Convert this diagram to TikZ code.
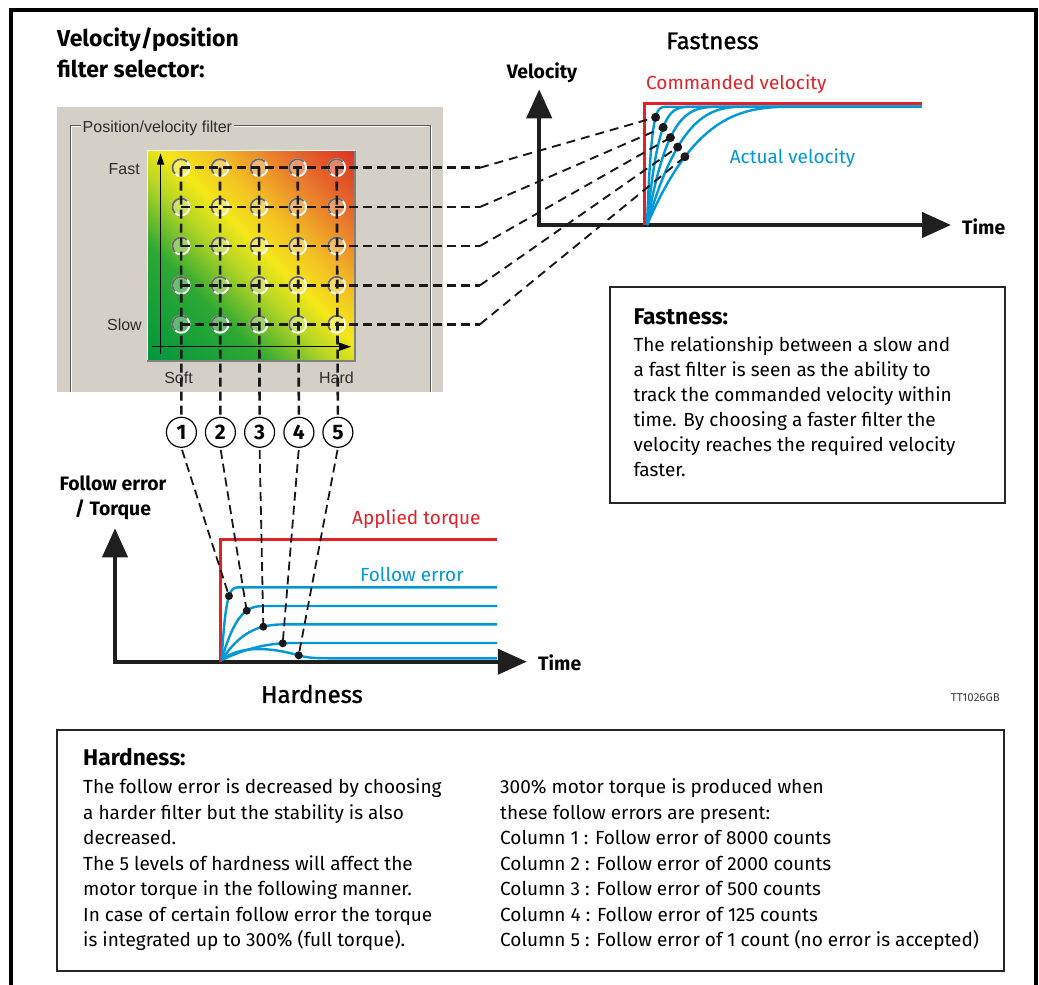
\documentclass[tikz,border=0pt]{standalone}
\usepackage{fontspec}
\setmainfont{Fira Sans}
\newfontfamily\winfont{Liberation Sans}
\newfontfamily\medfont{Fira Sans}[FakeBold=1.2]
\usetikzlibrary{arrows.meta}
\definecolor{cred}{RGB}{226,32,38}
\definecolor{cblue}{RGB}{0,152,216}
\definecolor{panelgray}{RGB}{212,208,200}
\definecolor{wintext}{RGB}{45,45,45}
\definecolor{ringgray}{RGB}{105,105,105}
\pgfdeclarehorizontalshading{filtergrad}{100bp}{%
 rgb(0bp)=(0,0.59,0.24);
 rgb(14.6bp)=(0,0.59,0.24);
 rgb(34.4bp)=(0.18,0.66,0.20);
 rgb(45.8bp)=(0.72,0.84,0.14);
 rgb(52.8bp)=(0.96,0.91,0.10);
 rgb(61.3bp)=(0.95,0.74,0.14);
 rgb(72.7bp)=(0.91,0.45,0.18);
 rgb(85.4bp)=(0.85,0.20,0.14);
 rgb(100bp)=(0.85,0.20,0.14)}
\begin{document}
\begin{tikzpicture}[x=1pt,y=-1pt,
  axisline/.style={line width=4.2pt,draw=black!88,line cap=rect},
  bigtip/.style={-{Triangle[length=29pt,width=25pt]}},
  redline/.style={line width=3.4pt,draw=cred},
  blueline/.style={line width=2.4pt,draw=cblue},
  griddash/.style={line width=2.6pt,dash pattern=on 9pt off 5pt,draw=black!90},
  slantdash/.style={line width=1.9pt,dash pattern=on 9pt off 6pt,draw=black!90},
  lowdash/.style={line width=1.8pt,dash pattern=on 9pt off 5pt,draw=black!90},
  bdot/.style={circle,fill=black!90,inner sep=0pt,minimum size=9pt},
  numcirc/.style={circle,draw,line width=1.2pt,minimum size=30pt,inner sep=0pt,font=\fontsize{21}{21}\selectfont\bfseries},
  wlabel/.style={font=\winfont\fontsize{16}{16}\selectfont,text=wintext,inner sep=0pt},
  boxbody/.style={font=\fontsize{19}{24}\selectfont,anchor=base west,inner sep=0pt},
  boxtitle/.style={font=\fontsize{22.7}{26}\selectfont\bfseries,anchor=base west,inner sep=0pt},
  axlabel/.style={font=\fontsize{19.4}{22}\selectfont\bfseries,inner sep=0pt},
  graphtitle/.style={font=\medfont\fontsize{24}{28}\selectfont,inner sep=0pt},
  curvelabel/.style={font=\fontsize{19}{22}\selectfont,inner sep=0pt,anchor=west},
  framebox/.style={line width=2pt,draw=black!85}
]
\useasboundingbox (0,0) rectangle (1039,985);
\fill[white] (0,0) rectangle (1039,985);
% outer frame
\draw[line width=4pt] (10.5,990) -- (10.5,9.5) -- (1036,9.5) -- (1036,990);

% title top left
\node[font=\fontsize{23}{23}\selectfont\bfseries,anchor=base west,inner sep=0pt] (sel1) at (57,46) {Velocity/position};
\node[font=\fontsize{23}{23}\selectfont\bfseries,anchor=base west,inner sep=0pt] (sel2) at (57,77.5) {filter selector:};

% ---------- panel ----------
\fill[panelgray] (56.7,106.7) rectangle (443.3,391.7);
\draw[gray!70!black,line width=1pt] (70.7,391.7) -- (70.7,125.7) -- (430,125.7) -- (430,391.7);
\draw[white,line width=1pt] (71.7,391.7) -- (71.7,126.7) -- (429,126.7);
\draw[white,line width=1pt] (431,125.7) -- (431,391.7);
\node[wlabel,fill=panelgray,inner xsep=1.5pt,anchor=west] (grouplbl) at (81,128.3) {Position/velocity filter};

\shade[shading=filtergrad,shading angle=45] (147.3,150.7) rectangle (355,361);
\draw[white,line width=1.5pt] (147.3,361) -- (147.3,150.7) -- (355,150.7);
\draw[gray,line width=1.5pt] (355,150.7) -- (355,361) -- (147.3,361);
\draw[line width=1.4pt,-{Triangle[length=11pt,width=7pt]}] (160.5,354) -- (160.5,153.5);
\draw[line width=1.4pt,-{Triangle[length=12pt,width=8pt]}] (151.7,346.7) -- (351,346.7);

\node[wlabel,anchor=east] (lfast) at (140,169) {Fast};
\node[wlabel,anchor=east] (lslow) at (142,325) {Slow};
\node[wlabel] (lsoft) at (178.5,377.7) {Soft};
\node[wlabel] (lhard) at (336.5,377.7) {Hard};

\foreach \c/\xx in {1/181,2/220,3/259,4/297.7,5/336.7}{
  \foreach \r/\yy in {1/167.7,2/207,3/246,4/285.3,5/324.3}{
    \coordinate (g\c\r) at (\xx,\yy);
    \fill[white,opacity=0.3] (g\c\r) circle (8.5);
    \draw[white,line width=1.8pt] (g\c\r) circle (8.5);
    \draw[ringgray,line width=1.8pt] ([shift={(135:8.5)}]g\c\r) arc[start angle=135,end angle=315,radius=8.5];
  }
}

% circled numbers
\node[numcirc] (n1) at (181.4,432.3) {1};
\node[numcirc] (n2) at (220.4,432.3) {2};
\node[numcirc] (n3) at (259.6,432.3) {3};
\node[numcirc] (n4) at (298.9,432.3) {4};
\node[numcirc] (n5) at (337.9,432.3) {5};

% kinks
\foreach \r/\yy in {1/167.7,2/207,3/246,4/285.3,5/324.3}{\coordinate (k\r) at (480,\yy);}

% ---------- velocity graph ----------
\coordinate (vO) at (539.2,225);
\coordinate (vY) at (539.2,89.3);
\coordinate (vX) at (951,225);
\draw[axisline,bigtip] (vO) -- (vY);
\draw[axisline,bigtip] (vO) -- (vX);
\draw[redline] (644.6,225) -- (644.6,103.3) -- (921.8,103.3);
\foreach \D/\p in {26/6,55.1/5,82.1/4,102/3,152/3}{
  \draw[blueline] plot[domain=0:0.97,samples=70,smooth] ({647+\D*\x},{106.7+118.3*(1-\x)^\p}) -- (921.8,106.7);
}
\coordinate (vd1) at (655.6,{106.7+118.3*(1-(655.6-647)/26)^6});
\coordinate (vd2) at (663.2,{106.7+118.3*(1-(663.2-647)/55.1)^5});
\coordinate (vd3) at (670.4,{106.7+118.3*(1-(670.4-647)/82.1)^4});
\coordinate (vd4) at (677.7,{106.7+118.3*(1-(677.7-647)/102)^3});
\coordinate (vd5) at (684.9,{106.7+118.3*(1-(684.9-647)/152)^3});

\node[axlabel] (vlab) at (542,72.7) {Velocity};
\node[axlabel,anchor=west] (vtime) at (962,227) {Time};
\node[curvelabel,text=cred] (cmdlab) at (646,84) {Commanded velocity};
\node[curvelabel,text=cblue] (actlab) at (729.6,158) {Actual velocity};
\node[graphtitle] (fasttitle) at (712.5,41) {Fastness};

% ---------- torque graph ----------
\coordinate (tO) at (115,661.7);
\coordinate (tY) at (115,528.3);
\coordinate (tX) at (526.8,661.7);
\draw[axisline,bigtip] (tO) -- (tY);
\draw[axisline,bigtip] (tO) -- (tX);
\draw[redline] (220.4,661.7) -- (220.4,539.3) -- (497,539.3);
\foreach \L/\D/\p in {587.3/24.5/6,606/44.9/3,624.3/70/3,643/70/2}{
  \draw[blueline] plot[domain=0:0.97,samples=60,smooth] ({221.7+\D*\x},{\L+(660-\L)*(1-\x)^\p}) -- (497,\L);
}
\draw[blueline] (221.7,660) .. controls (236,648) and (262,645) .. (298.7,655.3) .. controls (305,657.3) and (312,658.3) .. (330,658.3) -- (497,658.3);
\coordinate (td1) at (229,{587.3+72.7*(1-(229-221.7)/24.5)^6});
\coordinate (td2) at (246.7,{606+54*(1-(246.7-221.7)/44.9)^3});
\coordinate (td3) at (263.3,{624.3+35.7*(1-(263.3-221.7)/70)^3});
\coordinate (td4) at (282.7,{643+17*(1-(282.7-221.7)/70)^2});
\coordinate (td5) at (298.7,655.3);

\node[axlabel] (fe1) at (113,483) {Follow error};
\node[axlabel] (fe2) at (113,510) {/ Torque};
\node[axlabel,anchor=west] (ttime) at (538,663) {Time};
\node[curvelabel,text=cred] (aplab) at (352,519) {Applied torque};
\node[curvelabel,text=cblue] (felab) at (360,574) {Follow error};
\node[graphtitle] (hardtitle) at (312,694) {Hardness};
\node[font=\fontsize{11.5}{12}\selectfont,text=black!75,anchor=east,inner sep=0pt] (code) at (1000,698) {TT1026GB};

% ---------- dashed connectors ----------
\foreach \c in {1,...,5}{\draw[griddash] (g\c1) -- (n\c.north);}
\foreach \r in {1,...,5}{
  \draw[griddash] (g1\r) -- (k\r);
  \draw[slantdash] (k\r) -- (vd\r);
}
\foreach \k in {1,...,5}{\draw[lowdash,shorten <=2pt] (n\k.south) -- (td\k);}
\foreach \k in {1,...,5}{
  \node[bdot] (vdot\k) at (vd\k) {};
  \node[bdot,minimum size=8pt] (tdot\k) at (td\k) {};
}

% ---------- Fastness box ----------
\draw[framebox] (610,287.3) rectangle (1005,502.7);
\node[boxtitle] (fbt) at (633.3,324.3) {Fastness:};
\foreach \txt [count=\i from 0] in {{The relationship between a slow and},{a fast filter is seen as the ability to},{track the commanded velocity within},{time. By choosing a faster filter the},{velocity reaches the required velocity},{faster.}}{
  \node[boxbody] (fb\i) at (633.3,{351.7+24.95*\i}) {\txt};
}

% ---------- Hardness box ----------
\draw[framebox] (56.5,729.5) rectangle (1003.5,971);
\node[boxtitle] (hbt) at (83,765) {Hardness:};
\foreach \txt [count=\i from 0] in {{The follow error is decreased by choosing},{a harder filter but the stability is also},{decreased.},{The 5 levels of hardness will affect the},{motor torque in the following manner.},{In case of certain follow error the torque},{is integrated up to 300\% (full torque).}}{
  \node[boxbody] (hl\i) at (83,{793.7+25.5*\i}) {\txt};
}
\foreach \txt [count=\i from 0] in {{300\% motor torque is produced when},{these follow errors are present:},{Column 1 : Follow error of 8000 counts},{Column 2 : Follow error of 2000 counts},{Column 3 : Follow error of 500 counts},{Column 4 : Follow error of 125 counts},{Column 5 : Follow error of 1 count (no error is accepted)}}{
  \node[boxbody] (hr\i) at (500,{793.7+25.5*\i}) {\txt};
}
\end{tikzpicture}
\end{document}
